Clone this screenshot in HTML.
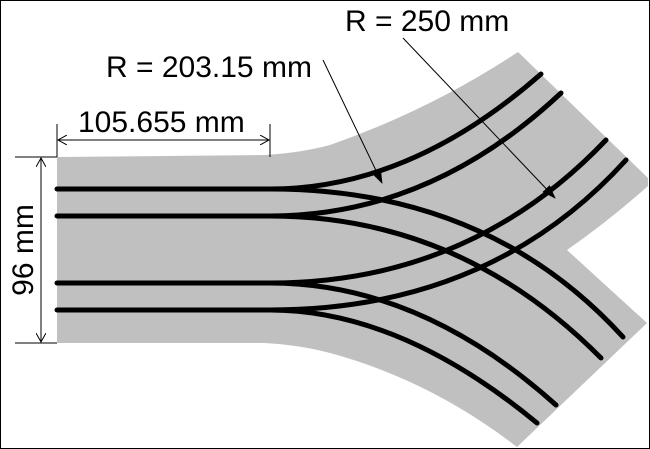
<!DOCTYPE html>
<html><head><style>
html,body{margin:0;padding:0;background:#fff}
svg{display:block}
text{font-family:"Liberation Sans",Arial,sans-serif;font-size:30px;fill:#000}
</style></head><body>
<svg width="650" height="449" viewBox="0 0 650 449" xmlns="http://www.w3.org/2000/svg">
<defs>
<marker id="a" markerWidth="14" markerHeight="10" refX="13" refY="5" orient="auto" markerUnits="userSpaceOnUse"><path d="M0,0 L14,5 L0,10 Z" fill="#000"/></marker>
<marker id="o" markerWidth="10" markerHeight="10" refX="9" refY="5" orient="auto-start-reverse" markerUnits="userSpaceOnUse"><path d="M0,0 L9,5 L0,10" fill="none" stroke="#000" stroke-width="1"/></marker>
</defs>
<rect x="0.5" y="0.5" width="649" height="448" fill="#fff" stroke="#000"/>
<path d="M57,157 L265,155 Q300,153 330,145 Q430,110 518,52 L648,178 L648,186 Q610,220 567,250 L647,323 L517,447 Q430,380 330,353 Q300,345 265,343 L57,343 Z" fill="#c0c0c0"/>
<g stroke="#000" stroke-width="5" fill="none" stroke-linecap="round">
<path d="M57,189 L270,189 Q410,189 541,74"/>
<path d="M57,216 L270,216 Q430,216 561,93"/>
<path d="M57,283 L270,283 Q470,283 606,140"/>
<path d="M57,310 L270,310 Q490,310 626,160"/>
<path d="M270,189 Q488,189 623,337"/>
<path d="M270,216 Q460,216 601,358"/>
<path d="M270,283 Q420,283 556,405"/>
<path d="M270,310 Q400,310 537,423"/>
</g>
<g stroke="#000" stroke-width="1" fill="none">
<line x1="57" y1="124" x2="57" y2="157"/>
<line x1="270" y1="124" x2="270" y2="157"/>
<line x1="58" y1="140" x2="269" y2="140" marker-start="url(#o)" marker-end="url(#o)"/>
<line x1="15" y1="157" x2="57" y2="157"/>
<line x1="15" y1="343" x2="57" y2="343"/>
<line x1="41" y1="158" x2="41" y2="342" marker-start="url(#o)" marker-end="url(#o)"/>
<line x1="323" y1="60" x2="382" y2="183" marker-end="url(#a)"/>
<line x1="403" y1="38" x2="555" y2="198" marker-end="url(#a)"/>
</g>
<text x="78" y="132">105.655 mm</text>
<text x="106" y="77">R = 203.15 mm</text>
<text x="345" y="31">R = 250 mm</text>
<text transform="translate(33,250) rotate(-90)" text-anchor="middle">96 mm</text>
</svg>
</body></html>
